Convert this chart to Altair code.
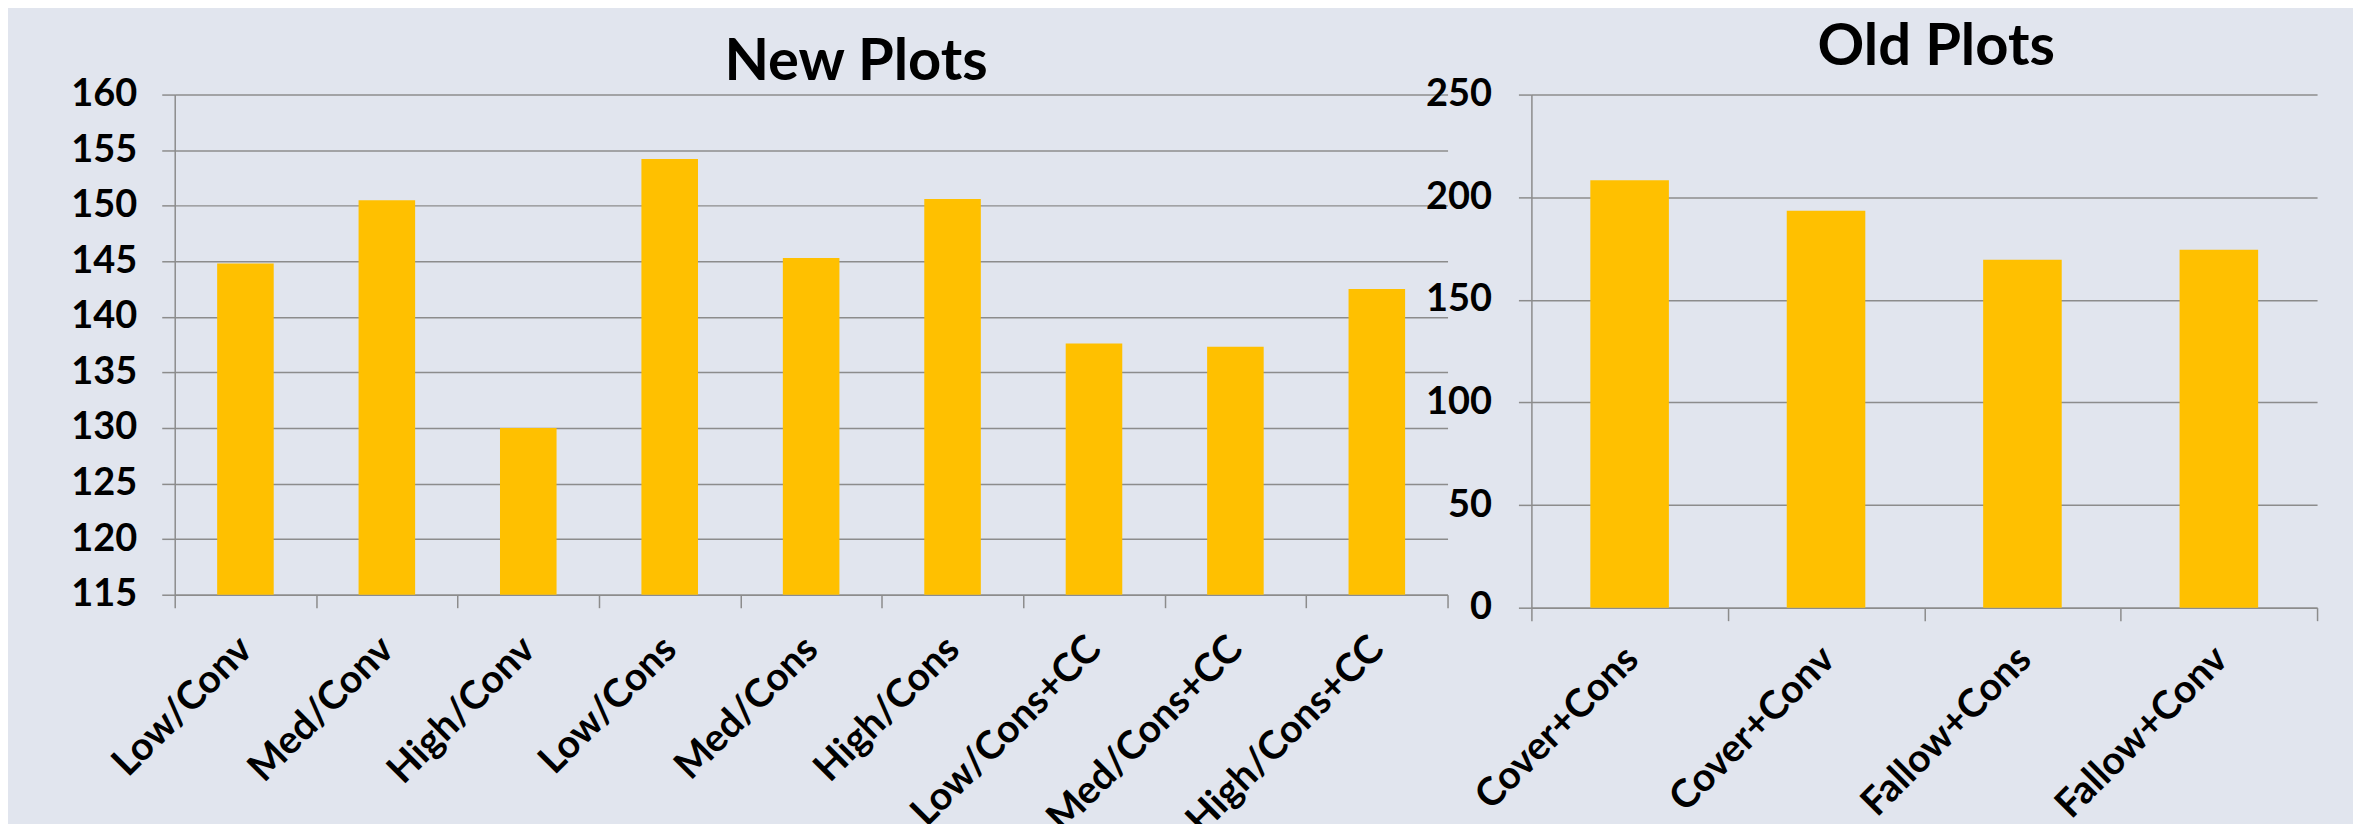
import altair as alt
import pandas as pd

# ---------------- data ----------------
new_categories = ["Low/Conv", "Med/Conv", "High/Conv", "Low/Cons", "Med/Cons",
                  "High/Cons", "Low/Cons+CC", "Med/Cons+CC", "High/Cons+CC"]
new_values = [144.8, 150.5, 130.0, 154.2, 145.3, 150.6, 137.6, 137.3, 142.5]
new_ticks = [115, 120, 125, 130, 135, 140, 145, 150, 155, 160]

old_categories = ["Cover+Cons", "Cover+Conv", "Fallow+Cons", "Fallow+Conv"]
old_values = [208.3, 193.4, 169.5, 174.4]
old_ticks = [0, 50, 100, 150, 200, 250]

# ---------------- style ----------------
FONT = "Lato"
BAR = "#FFC000"
GRAY = "#8C8C8C"
BG = "#E1E5EE"

new_df = pd.DataFrame({"cat": new_categories, "val": new_values})
old_df = pd.DataFrame({"cat": old_categories, "val": old_values})


def x_axis(pad, off):
    return alt.Axis(title=None, labelAngle=-45, labelAlign="right", labelBaseline="middle",
                    labelFont=FONT, labelFontSize=39, labelFontWeight="bold", labelColor="black",
                    labelPadding=pad, labelOffset=off, labelLimit=0, tickBand="extent",
                    ticks=True, tickSize=13, tickColor=GRAY, tickWidth=1.5,
                    domainColor=GRAY, domainWidth=1.5, grid=False, labelOverlap=False)


def y_axis(values, pad):
    return alt.Axis(title=None, values=values, grid=True, gridColor=GRAY, gridWidth=1.5,
                    domain=True, domainColor=GRAY, domainWidth=1.5, ticks=True, tickSize=13,
                    tickColor=GRAY, tickWidth=1.5, labelFont=FONT, labelFontSize=38,
                    labelFontWeight="bold", labelColor="black", labelPadding=pad)


def title(text, dy, dx):
    return alt.TitleParams(text=text, fontSize=58, font=FONT, fontWeight="bold", color="black",
                           anchor="middle", baseline="top", offset=0, dy=dy, dx=dx)


left = alt.Chart(new_df).mark_bar(color=BAR, clip=True, width=alt.RelativeBandSize(0.4)).encode(
    x=alt.X("cat:N", sort=new_categories,
            scale=alt.Scale(paddingInner=0, paddingOuter=0), axis=x_axis(35, 0)),
    y=alt.Y("val:Q", scale=alt.Scale(domain=[115, 160], nice=False, zero=False),
            axis=y_axis(new_ticks, 25)),
).properties(width=1275, height=501, title=title("New Plots", 16, 45))

right = alt.Chart(old_df).mark_bar(color=BAR, width=alt.RelativeBandSize(0.4)).encode(
    x=alt.X("cat:N", sort=old_categories,
            scale=alt.Scale(paddingInner=0, paddingOuter=0), axis=x_axis(32, 2)),
    y=alt.Y("val:Q", scale=alt.Scale(domain=[0, 250], nice=False),
            axis=y_axis(old_ticks, 27)),
).properties(width=787, height=514, title=title("Old Plots", 1, 12))

chart = alt.hconcat(left, right, spacing=-24).properties(
    padding={"left": 62, "top": 10, "right": 35, "bottom": 0},
    background=BG,
).configure_view(stroke=None)

chart.save("out.html", embed_options={"renderer": "svg", "actions": False})
